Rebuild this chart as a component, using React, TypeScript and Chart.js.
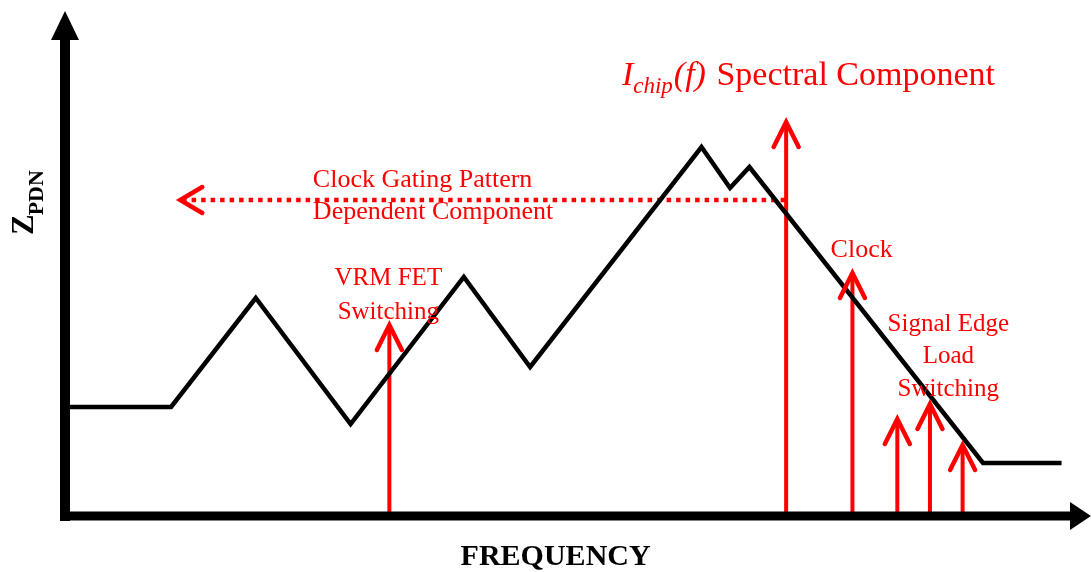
import React, { useEffect, useRef } from "react";
import { Chart, registerables } from "chart.js";

Chart.register(...registerables);

// PDN impedance profile (frequency in arbitrary units 0..100, |Z| in arbitrary units 0..100)
const zpdnFreq = [0, 10.4, 18.7, 28.0, 39.1, 45.6, 62.4, 65.2, 67.1, 90.0, 97.7];
const zpdnMag = [21.8, 21.8, 43.6, 18.4, 47.8, 29.8, 73.8, 65.6, 69.8, 10.6, 10.6];

// Current spectral components (red arrows)
const componentNames = ["VRM FET", "Ichip Spectral", "Clock", "Edge 1", "Edge 2", "Edge 3"];
const componentFreq = [31.8, 70.7, 77.2, 81.6, 84.8, 88.0];
const componentAmp = [38.2, 78.8, 48.6, 19.4, 22.4, 14.2];

// Clock-gating dependent component (dotted arrow pointing to low frequency)
const gatingFreq = [70.6, 11.3];
const gatingLevel = 63.2;

// Annotation texts
const gatingLabel = ["Clock Gating Pattern", "Dependent Component"];
const vrmLabel = ["VRM FET", "Switching"];
const clockLabel = ["Clock"];
const edgeLabel = ["Signal Edge", "Load", "Switching"];
const titleParts = ["I", "chip", "(f)", " Spectral Component"];
const xTitle = "FREQUENCY";
const yTitle = ["Z", "PDN"];

const RED = "#ff0000";
const SERIF = "'Liberation Serif', 'Times New Roman', serif";

const diagramPlugin = {
  id: "diagram",
  afterDatasetsDraw(chart: any) {
    const ctx: CanvasRenderingContext2D = chart.ctx;
    const { left, right, top, bottom } = chart.chartArea;
    const xs = chart.scales.x;
    const ys = chart.scales.y;
    const X = (v: number) => xs.getPixelForValue(v);
    const Y = (v: number) => ys.getPixelForValue(v);

    // arrowheads (open chevrons)
    chart.data.datasets.forEach((ds: any, i: number) => {
      if (!ds.arrowHead) return;
      const pts = chart.getDatasetMeta(i).data;
      const a = pts[pts.length - 2];
      const b = pts[pts.length - 1];
      const ang = Math.atan2(b.y - a.y, b.x - a.x);
      const L = ds.arrowHead.len;
      const W = ds.arrowHead.half;
      const bx = b.x - L * Math.cos(ang);
      const by = b.y - L * Math.sin(ang);
      const px = -Math.sin(ang) * W;
      const py = Math.cos(ang) * W;
      ctx.save();
      ctx.setLineDash([]);
      ctx.strokeStyle = ds.borderColor;
      ctx.lineWidth = ds.arrowHead.width;
      ctx.lineCap = "round";
      ctx.lineJoin = "miter";
      ctx.beginPath();
      ctx.moveTo(bx + px, by + py);
      ctx.lineTo(b.x, b.y);
      ctx.lineTo(bx - px, by - py);
      ctx.stroke();
      ctx.restore();
    });

    // axes with arrowheads
    ctx.save();
    ctx.fillStyle = "#000";
    ctx.fillRect(left - 5, top + 24, 10, bottom + 5 - (top + 24));
    ctx.beginPath();
    ctx.moveTo(left, top - 5);
    ctx.lineTo(left - 14, top + 24);
    ctx.lineTo(left + 14, top + 24);
    ctx.closePath();
    ctx.fill();
    ctx.fillRect(left - 5, bottom - 4.5, right - 15 - (left - 5), 9);
    ctx.beginPath();
    ctx.moveTo(right - 15, bottom - 14);
    ctx.lineTo(right + 6, bottom);
    ctx.lineTo(right - 15, bottom + 14);
    ctx.closePath();
    ctx.fill();
    ctx.restore();

    // texts
    ctx.save();
    ctx.fillStyle = RED;
    ctx.textBaseline = "middle";
    ctx.textAlign = "left";
    ctx.font = `26px ${SERIF}`;
    gatingLabel.forEach((t, k) => ctx.fillText(t, X(24.3), Y(67.2) + k * 32));
    ctx.textAlign = "center";
    ctx.font = `25px ${SERIF}`;
    vrmLabel.forEach((t, k) => ctx.fillText(t, X(31.7), Y(47.6) + k * 34));
    ctx.font = `26px ${SERIF}`;
    clockLabel.forEach((t, k) => ctx.fillText(t, X(78.1), Y(53.2) + k * 33));
    ctx.font = `25px ${SERIF}`;
    edgeLabel.forEach((t, k) => ctx.fillText(t, X(86.6), Y(38.4) + k * 32.5));

    // spectral component title
    ctx.textAlign = "left";
    ctx.textBaseline = "alphabetic";
    let cx = X(54.6);
    const base = Y(86.2);
    ctx.font = `italic 34px ${SERIF}`;
    ctx.fillText(titleParts[0], cx, base);
    cx += ctx.measureText(titleParts[0]).width;
    ctx.font = `italic 23px ${SERIF}`;
    ctx.fillText(titleParts[1], cx, base + 8);
    cx += ctx.measureText(titleParts[1]).width + 1;
    ctx.font = `italic 34px ${SERIF}`;
    ctx.fillText(titleParts[2], cx, base);
    cx += ctx.measureText(titleParts[2]).width;
    ctx.font = `34px ${SERIF}`;
    ctx.fillText(titleParts[3], cx + 2, base);

    // axis titles
    ctx.fillStyle = "#000";
    ctx.font = `bold 30px ${SERIF}`;
    ctx.textAlign = "center";
    ctx.fillText(xTitle, X(48.1), Y(-9.8));

    ctx.translate(X(-3.1), Y(56.2));
    ctx.rotate(-Math.PI / 2);
    ctx.textAlign = "left";
    ctx.font = `bold 31px ${SERIF}`;
    ctx.fillText(yTitle[0], 0, 0);
    const zw = ctx.measureText(yTitle[0]).width;
    ctx.font = `bold 22px ${SERIF}`;
    ctx.fillText(yTitle[1], zw - 1, 10);
    ctx.restore();
  },
};

export default function App() {
  const ref = useRef<HTMLCanvasElement | null>(null);

  useEffect(() => {
    if (!ref.current) return;
    const datasets: any[] = [];
    datasets.push({
      label: "ZPDN",
      data: zpdnFreq.map((f, i) => ({ x: f, y: zpdnMag[i] })),
      borderColor: "#000",
      borderWidth: 4.5,
      pointRadius: 0,
      showLine: true,
      tension: 0,
      clip: false,
      borderJoinStyle: "miter",
    });
    componentNames.forEach((name, i) => {
      datasets.push({
        label: name,
        data: [
          { x: componentFreq[i], y: 0 },
          { x: componentFreq[i], y: componentAmp[i] },
        ],
        borderColor: RED,
        borderWidth: 4,
        pointRadius: 0,
        showLine: true,
        clip: false,
        arrowHead: { len: 25, half: 12.5, width: 4.5 },
      });
    });
    datasets.push({
      label: "Clock gating",
      data: gatingFreq.map((f) => ({ x: f, y: gatingLevel })),
      borderColor: RED,
      borderWidth: 4.5,
      borderDash: [4.5, 5],
      borderCapStyle: "butt",
      pointRadius: 0,
      showLine: true,
      clip: false,
      arrowHead: { len: 22, half: 13, width: 4.5 },
    });

    const chart = new Chart(ref.current, {
      type: "scatter",
      data: { datasets },
      options: {
        animation: false,
        responsive: false,
        devicePixelRatio: 1,
        layout: { padding: { left: 65, right: 6, top: 16, bottom: 56 } },
        plugins: { legend: { display: false }, tooltip: { enabled: false } },
        scales: {
          x: { type: "linear", min: 0, max: 100, display: false },
          y: { type: "linear", min: 0, max: 100, display: false },
        },
      },
      plugins: [diagramPlugin],
    } as any);
    return () => chart.destroy();
  }, []);

  return (
    <div style={{ position: "fixed", left: 0, top: 0, width: 1091, height: 572, background: "#fff" }}>
      <canvas ref={ref} width={1091} height={572} />
    </div>
  );
}
